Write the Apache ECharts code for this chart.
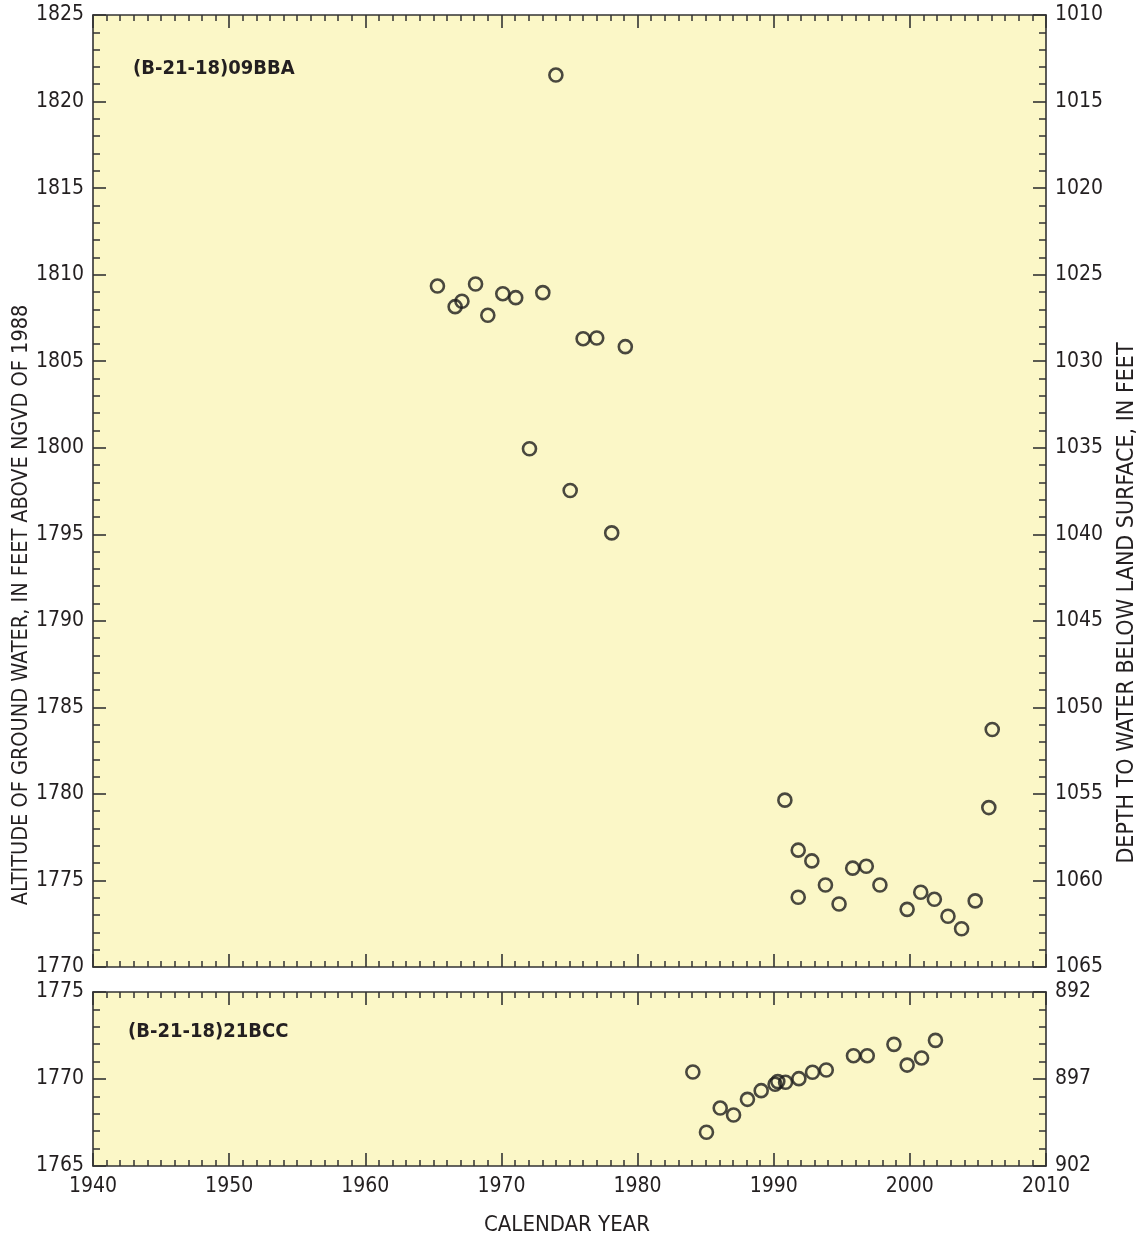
<!DOCTYPE html>
<html>
<head>
<meta charset="utf-8">
<script src="https://cdn.jsdelivr.net/npm/echarts@6/dist/echarts.min.js"></script>
<style>html,body{margin:0;padding:0;background:#fff}#c{width:1144px;height:1241px}</style>
</head>
<body>
<div id="c"></div>
<script>
// Top well (B-21-18)09BBA
const years1 = [1965.3,1966.6,1967.1,1968.1,1969.0,1970.1,1971.05,1972.06,1973.04,1974.0,1975.05,1976.0,1977.0,1978.1,1979.1,
  1990.82,1991.8,1991.8,1992.8,1993.8,1994.8,1995.8,1996.8,1997.8,1999.8,2000.8,2001.8,2002.8,2003.8,2004.8,2005.8,2006.05];
const alt1 = [1809.34,1808.15,1808.46,1809.46,1807.65,1808.9,1808.67,1799.94,1808.96,1821.53,1797.53,1806.3,1806.34,1795.08,1805.84,
  1779.64,1776.75,1774.03,1776.13,1774.74,1773.64,1775.71,1775.82,1774.74,1773.33,1774.32,1773.91,1772.93,1772.21,1773.82,1779.21,1783.72];
// Bottom well (B-21-18)21BCC
const years2 = [1984.06,1985.06,1986.07,1987.05,1988.07,1989.08,1990.1,1990.3,1990.87,1991.85,1992.85,1993.86,1995.86,1996.87,1998.83,1999.8,2000.86,2001.88];
const alt2 = [1770.4,1766.94,1768.33,1767.93,1768.83,1769.33,1769.7,1769.85,1769.81,1770.02,1770.39,1770.52,1771.34,1771.34,1771.99,1770.8,1771.21,1772.22];
const xTicks = [1940,1950,1960,1970,1980,1990,2000,2010];

const FONT = '"DejaVu Sans Condensed","Liberation Sans Narrow",sans-serif';
const INK = '#231f20';
const AX = '#333333';
const BG = '#fbf7c7';
const fmt = v => String(v);

function xAx(grid, pos, labels){
  return {type:'value', gridIndex:grid, position:pos, min:1940, max:2010, interval:10,
    axisLine:{show:true,onZero:false,lineStyle:{color:AX,width:1.6}},
    axisTick:{show:true,inside:true,length:13,lineStyle:{color:AX,width:1.6}},
    minorTick:{show:true,splitNumber:10,length:6,lineStyle:{color:AX,width:1.5}},
    splitLine:{show:false},
    axisLabel:{show:labels,color:INK,fontFamily:FONT,fontSize:21,margin:10,formatter:fmt}};
}
function yAx(grid, pos, min, max, inverse){
  return {type:'value', gridIndex:grid, position:pos, min:min, max:max, interval:5, inverse:inverse,
    axisLine:{show:true,onZero:false,lineStyle:{color:AX,width:1.6}},
    axisTick:{show:true,inside:true,length:13,lineStyle:{color:AX,width:1.6}},
    minorTick:{show:true,splitNumber:5,length:7,lineStyle:{color:AX,width:1.5}},
    splitLine:{show:false},
    axisLabel:{show:true,color:INK,fontFamily:FONT,fontSize:21,margin:9,formatter:fmt}};
}

const chart = echarts.init(document.getElementById('c'), null, {renderer:'canvas'});
chart.setOption({
  animation:false,
  backgroundColor:'#fff',
  grid:[
    {left:93, top:15, width:953, height:952, show:true, backgroundColor:BG, borderWidth:0},
    {left:93, top:992, width:953, height:174, show:true, backgroundColor:BG, borderWidth:0}
  ],
  xAxis:[xAx(0,'bottom',false), xAx(0,'top',false), xAx(1,'bottom',true), xAx(1,'top',false)],
  yAxis:[yAx(0,'left',1770,1825,false), yAx(0,'right',1010,1065,true),
         yAx(1,'left',1765,1775,false), yAx(1,'right',892,902,true)],
  series:[
    {type:'scatter', xAxisIndex:0, yAxisIndex:0, symbol:'circle', symbolSize:13,
     itemStyle:{color:'rgba(0,0,0,0)', borderColor:'#1d1b1b', borderWidth:2.6},
     data: years1.map((y,i)=>[y,alt1[i]])},
    {type:'scatter', xAxisIndex:2, yAxisIndex:2, symbol:'circle', symbolSize:13,
     itemStyle:{color:'rgba(0,0,0,0)', borderColor:'#1d1b1b', borderWidth:2.6},
     data: years2.map((y,i)=>[y,alt2[i]])}
  ],
  graphic:[
    {type:'text', left:133, top:59, style:{text:'(B-21-18)09BBA', font:'bold 20px '+FONT, fill:INK}},
    {type:'text', left:128, top:1022, style:{text:'(B-21-18)21BCC', font:'bold 20px '+FONT, fill:INK}},
    {type:'text', x:567, y:1225, style:{text:'CALENDAR YEAR', font:'22px '+FONT, fill:INK, align:'center', verticalAlign:'middle'}},
    {type:'text', x:21, y:605, rotation:Math.PI/2, style:{text:'ALTITUDE OF GROUND WATER, IN FEET ABOVE NGVD OF 1988', font:'21.5px '+FONT, fill:INK, align:'center', verticalAlign:'middle'}},
    {type:'text', x:1127, y:603, rotation:Math.PI/2, style:{text:'DEPTH TO WATER BELOW LAND SURFACE, IN FEET', font:'23px '+FONT, fill:INK, align:'center', verticalAlign:'middle'}}
  ]
});
</script>
</body>
</html>
